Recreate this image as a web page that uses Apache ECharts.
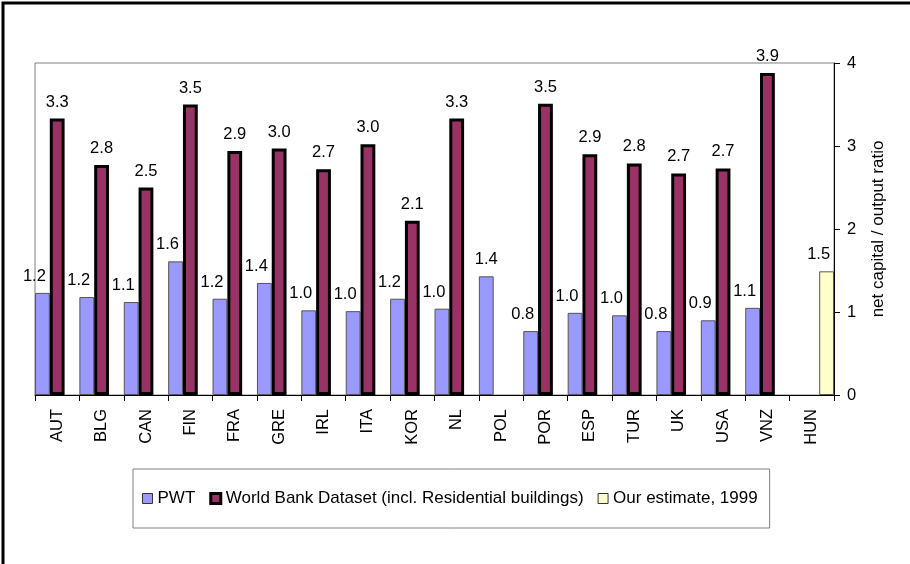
<!DOCTYPE html>
<html>
<head>
<meta charset="utf-8">
<script src="https://cdn.jsdelivr.net/npm/echarts@6/dist/echarts.min.js"></script>
<style>
html,body{margin:0;padding:0;background:#fff;}
#chart{width:910px;height:564px;}
</style>
</head>
<body>
<div id="chart"></div>
<script>
var categories = ['AUT','BLG','CAN','FIN','FRA','GRE','IRL','ITA','KOR','NL','POL','POR','ESP','TUR','UK','USA','VNZ','HUN'];
var pwt = [1.23,1.18,1.12,1.61,1.16,1.35,1.02,1.01,1.16,1.04,1.43,0.77,0.99,0.96,0.77,0.90,1.05,null];
var worldBank = [3.33,2.77,2.50,3.50,2.94,2.97,2.72,3.02,2.10,3.33,null,3.51,2.90,2.79,2.67,2.73,3.88,null];
var ourEstimate = [null,null,null,null,null,null,null,null,null,null,null,null,null,null,null,null,null,1.49];
var yTicks = [0,1,2,3,4];

var FONT = 'Liberation Sans, Arial, sans-serif';
var chart = echarts.init(document.getElementById('chart'));

function fmt(p){ return p.value == null ? '' : Number(p.value).toFixed(1); }

// PWT labels shifted left where a neighbouring bar exists (as in the reference)
var pwtData = pwt.map(function(v, i){
  var hasNeighbour = worldBank[i] != null;
  return {value: v, label: {offset: [hasNeighbour ? -8 : 0, 0]}};
});
var ourData = ourEstimate.map(function(v){
  return {value: v, label: {offset: [-8, 0]}};
});

var labelBase = {
  show: true, position: 'top', distance: 8, color: '#000',
  fontFamily: FONT, fontSize: 16.5, formatter: fmt
};

chart.setOption({
  animation: false,
  backgroundColor: '#fff',
  graphic: [{
    type: 'rect', silent: true, z: 100,
    shape: {x: 3, y: 3, width: 1000, height: 1000},
    style: {fill: 'none', stroke: '#000', lineWidth: 3}
  }],
  grid: {
    left: 35, right: 76, top: 63, bottom: 169,
    show: true, borderColor: '#808080', borderWidth: 1, backgroundColor: '#fff'
  },
  legend: {
    left: 133, top: 469,
    padding: [21, 12, 21, 9],
    borderColor: '#808080', borderWidth: 1,
    icon: 'rect',
    itemWidth: 10, itemHeight: 10, itemGap: 14,
    textStyle: {fontFamily: FONT, fontSize: 17, color: '#000'},
    data: [
      {name: 'PWT', itemStyle: {color: '#9999FF', borderColor: '#333', borderWidth: 1}},
      {name: 'World Bank Dataset (incl. Residential buildings)', itemStyle: {color: '#993366', borderColor: '#000', borderWidth: 3}},
      {name: 'Our estimate, 1999', itemStyle: {color: '#FFFFCC', borderColor: '#333', borderWidth: 1}}
    ]
  },
  xAxis: {
    type: 'category',
    data: categories,
    axisLine: {lineStyle: {color: '#000', width: 1}},
    axisTick: {show: true, length: 6, lineStyle: {color: '#000'}},
    axisLabel: {rotate: 90, margin: 14, interval: 0, color: '#000', fontFamily: FONT, fontSize: 16.5},
    splitLine: {show: false}
  },
  yAxis: {
    type: 'value',
    position: 'right',
    min: yTicks[0], max: yTicks[yTicks.length - 1], interval: 1,
    name: 'net capital / output ratio',
    nameLocation: 'middle', nameRotate: 90, nameGap: 36,
    nameTextStyle: {fontFamily: FONT, fontSize: 17, color: '#000'},
    axisLine: {show: true, lineStyle: {color: '#000', width: 1}},
    axisTick: {show: true, length: 6, lineStyle: {color: '#000'}},
    axisLabel: {margin: 13, color: '#000', fontFamily: FONT, fontSize: 16.5},
    splitLine: {show: false}
  },
  series: [
    {
      name: 'PWT', type: 'bar', data: pwtData,
      barGap: '0%', barCategoryGap: '0%',
      itemStyle: {color: '#9999FF', borderColor: '#555', borderWidth: 1},
      label: labelBase
    },
    {
      name: 'World Bank Dataset (incl. Residential buildings)', type: 'bar', data: worldBank,
      barGap: '0%', barCategoryGap: '0%',
      itemStyle: {color: '#993366', borderColor: '#000', borderWidth: 3},
      label: labelBase
    },
    {
      name: 'Our estimate, 1999', type: 'bar', data: ourData,
      barGap: '0%', barCategoryGap: '0%',
      itemStyle: {color: '#FFFFCC', borderColor: '#555', borderWidth: 1},
      label: labelBase
    }
  ]
});
</script>
</body>
</html>
